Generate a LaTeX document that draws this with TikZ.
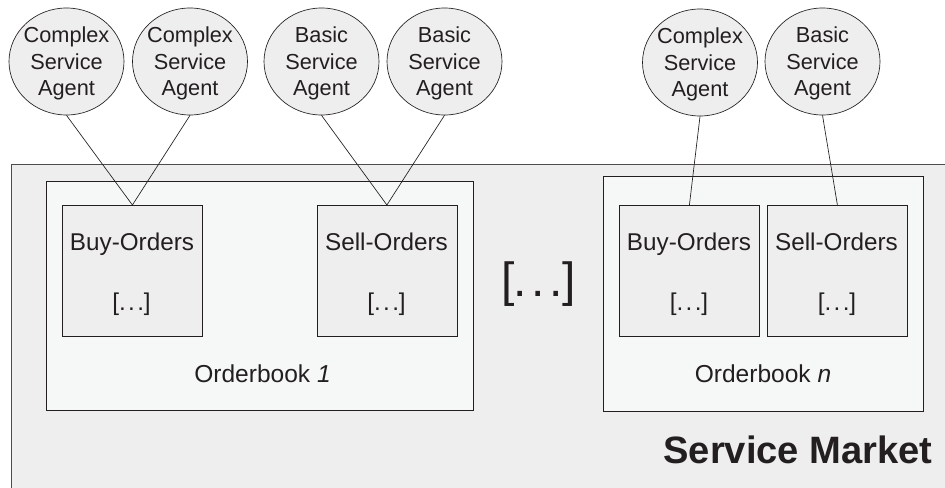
\documentclass[tikz,border=0pt]{standalone}
\usepackage{fontspec}
\setmainfont{Liberation Sans}
\usetikzlibrary{shapes.geometric}
\definecolor{ink}{HTML}{231F20}
\definecolor{pale}{HTML}{EEEEEE}
\definecolor{paper}{HTML}{F6F8F8}
\tikzset{x=0.75pt,y=-0.75pt,
 agent/.style={ellipse,draw=ink,fill=pale,line width=0.5pt,minimum width=86.25pt,minimum height=80.25pt,inner sep=0pt},
 agenttext/.style={inner sep=0pt,text=ink,align=center,yshift=-1.6pt,font=\fontsize{16.3}{19.9}\selectfont},
 panel/.style={draw=ink!80,fill=pale,line width=0.6pt},
 book/.style={rectangle,draw=ink,fill=paper,line width=0.6pt,inner sep=0pt,anchor=north west},
 orders/.style={rectangle,draw=ink,fill=pale,line width=0.6pt,inner sep=0pt,anchor=north west,minimum width=105pt,minimum height=98.25pt},
 lbl/.style={font=\fontsize{18.2}{20}\selectfont,inner sep=0pt,anchor=base,text=ink},
 conn/.style={draw=ink,line width=0.5pt}}
\newcommand{\gapdots}[2]{[\kern#1.\kern#2.\kern#2.\kern#1]}
\begin{document}
\begin{tikzpicture}
\useasboundingbox (0,0) rectangle (945,488);
\fill[white] (0,0) rectangle (945,488);
\draw[panel] (946,164) -- (11.5,164) -- (11.5,489) -- (946,489);
\node[book,minimum width=320.25pt,minimum height=171.75pt] (b1) at (45.5,181) {};
\node[book,minimum width=240pt,minimum height=175.5pt] (b2) at (602.5,176.5) {};
\node[orders] (s1) at (62,205) {};
\node[orders] (s2) at (316.5,205) {};
\node[orders] (s3) at (619,205) {};
\node[orders] (s4) at (767,205) {};
\node[agent] (a1) at (66.5,61.5) {};
\node[agent] (a2) at (190,61.5) {};
\node[agent] (a3) at (321.5,61.5) {};
\node[agent] (a4) at (444.5,61.5) {};
\node[agent] (a5) at (700,62.5) {};
\node[agent] (a6) at (822.5,61.5) {};
\node[agenttext] (ta1) at (a1) {Complex\\Service\\Agent};
\node[agenttext] (ta2) at (a2) {Complex\\Service\\Agent};
\node[agenttext] (ta3) at (a3) {Basic\\Service\\Agent};
\node[agenttext] (ta4) at (a4) {Basic\\Service\\Agent};
\node[agenttext] (ta5) at (a5) {Complex\\Service\\Agent};
\node[agenttext] (ta6) at (a6) {Basic\\Service\\Agent};
\draw[conn] (a1.south) -- (s1.north);
\draw[conn] (a2.south) -- (s1.north);
\draw[conn] (a3.south) -- (s2.north);
\draw[conn] (a4.south) -- (s2.north);
\draw[conn] (a5.south) -- (s3.north);
\draw[conn] (a6.south) -- (s4.north);
\node[lbl] (t1) at (132,250.5) {Buy-Orders};
\node[lbl] (t2) at (386.5,250.5) {Sell-Orders};
\node[lbl] (t3) at (689,250.5) {Buy-Orders};
\node[lbl] (t4) at (836.5,250.5) {Sell-Orders};
\node[lbl] (d1) at (131.5,310.5) {\gapdots{-0.1pt}{1.8pt}};
\node[lbl] (d2) at (386.5,310.5) {\gapdots{-0.1pt}{1.8pt}};
\node[lbl] (d3) at (689,310.5) {\gapdots{-0.1pt}{1.8pt}};
\node[lbl] (d4) at (837,310.5) {\gapdots{-0.1pt}{1.8pt}};
\node[lbl,font=\fontsize{18.4}{20}\selectfont] (o1) at (262.5,382) {Orderbook \textit{1}};
\node[lbl,font=\fontsize{18.4}{20}\selectfont] (o2) at (763,382) {Orderbook \textit{n}};
\node[lbl,font=\fontsize{36}{40}\selectfont] (big) at (538.5,296.5) {\gapdots{-0.9pt}{3.5pt}};
\node[lbl,font=\bfseries\fontsize{28.6}{32}\selectfont] (sm) at (798,463.5) {Service Market};
\end{tikzpicture}
\end{document}
